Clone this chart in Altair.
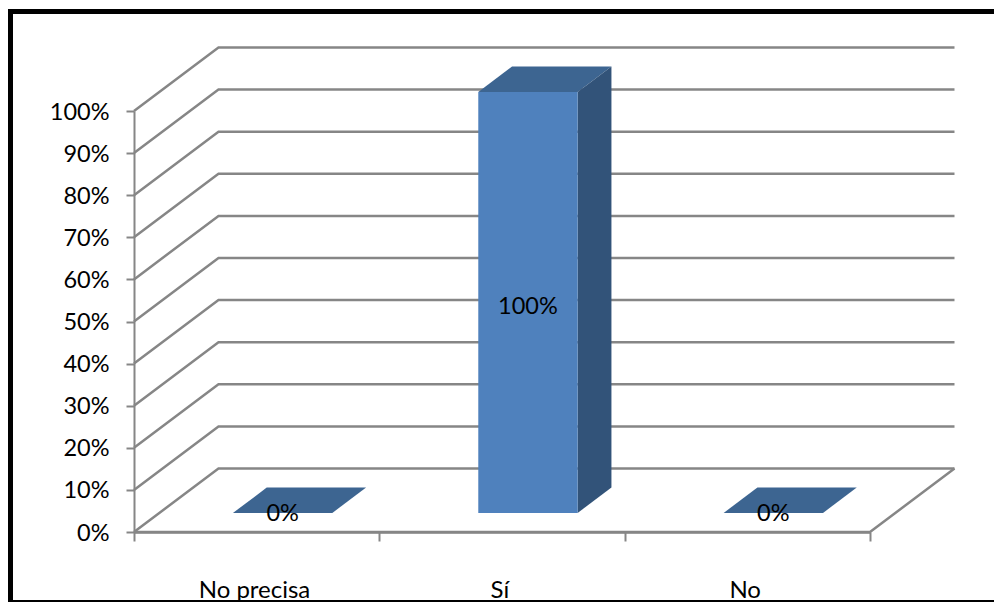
import altair as alt
import pandas as pd

categories = ["No precisa", "Sí", "No"]
values = [0.0, 1.0, 0.0]
labels = ["0%", "100%", "0%"]
label_at = [0.0, 0.493, 0.0]
grid_values = [0.0, 0.1, 0.2, 0.3, 0.4, 0.5, 0.6, 0.7, 0.8, 0.9, 1.0]

GRID = "#868686"
FRONT = "#4F81BD"
TOP = "#3D6591"
SIDE = "#325379"
FONT = "Lato"
FS = 23.5
LINE = 2.5

# oblique projection: full depth moves a point this far in data units
DX = 0.3444
DY = 0.1508
D0, D1 = 0.3, 0.7
B0, B1 = 0.3, 0.705

XS = alt.Scale(domain=[0, 3], nice=False, zero=False)
YS = alt.Scale(domain=[0, 1], nice=False, zero=False)


def px(x, d):
    return x + d * DX


def py(y, d):
    return y + d * DY


grid_rows = []
for v in grid_values:
    for x, d in [(0, 0), (0, 1), (3, 1)]:
        grid_rows.append({"g": v, "x": px(x, d), "y": py(v, d)})
grid_rows += [
    {"g": -1, "x": px(0, 0), "y": py(0, 0)},
    {"g": -1, "x": px(3, 0), "y": py(0, 0)},
    {"g": -1, "x": px(3, 1), "y": py(0, 1)},
]

top_rows, side_rows, front_rows, text_rows = [], [], [], []
for i, (c, v, t, at) in enumerate(zip(categories, values, labels, label_at)):
    for d in (D0, D1):
        top_rows.append({"c": c, "y": py(v, d), "x": px(i + B0, d), "x2": px(i + B1, d)})
        side_rows.append({"c": c, "x": px(i + B1, d), "y": py(v, d), "y2": py(0, d)})
    front_rows.append({"c": c, "x": px(i + B0, D0), "x2": px(i + B1, D0), "y": py(v, D0), "y2": py(0, D0)})
    text_rows.append({"t": t, "x": px(i + (B0 + B1) / 2, D0), "y": py(at, D0) - 0.003})

x_enc = alt.X(
    "x:Q",
    scale=XS,
    title=None,
    axis=alt.Axis(
        values=[0, 1, 2, 3],
        grid=False,
        labelExpr="['No precisa','Sí','No',''][datum.value]",
        labelOffset=120,
        labelPadding=37,
        labelFont=FONT,
        labelFontSize=24,
        labelColor="#000000",
        labelFlush=False,
        labelOverlap=False,
        labelBound=False,
        tickSize=9,
        tickWidth=2,
        tickColor=GRID,
        domainWidth=LINE,
        domainColor=GRID,
    ),
)
y_enc = alt.Y(
    "y:Q",
    scale=YS,
    title=None,
    axis=alt.Axis(
        values=grid_values,
        format=".0%",
        grid=False,
        labelPadding=17,
        labelOffset=1,
        labelFont=FONT,
        labelFontSize=FS,
        labelColor="#000000",
        labelOverlap=False,
        labelBound=False,
        labelFlush=False,
        tickSize=8,
        tickWidth=2,
        tickColor=GRID,
        domainWidth=2,
        domainColor=GRID,
    ),
)

grid = alt.Chart(pd.DataFrame(grid_rows)).mark_line(color=GRID, strokeWidth=LINE, clip=False).encode(
    x=x_enc, y=y_enc, detail="g:N", order=alt.Order("x:Q")
)

top = alt.Chart(pd.DataFrame(top_rows)).mark_area(orient="horizontal", color=TOP, clip=False).encode(
    y=y_enc, x=x_enc, x2="x2:Q", detail="c:N"
)

side = alt.Chart(pd.DataFrame(side_rows)).mark_area(orient="vertical", color=SIDE, clip=False).encode(
    x=x_enc, y=y_enc, y2="y2:Q", detail="c:N"
)

front = alt.Chart(pd.DataFrame(front_rows)).mark_rect(color=FRONT, clip=False).encode(
    x=x_enc, x2="x2:Q", y=y_enc, y2="y2:Q"
)

text = alt.Chart(pd.DataFrame(text_rows)).mark_text(
    font=FONT, fontSize=FS, color="#000000", align="center", baseline="middle", clip=False
).encode(x=x_enc, y=y_enc, text="t:N")

# picture frame: decoration around the chart, placed in pixels from the plot origin
frame_data = pd.DataFrame({"k": [1]})
frame_left = alt.Chart(frame_data).mark_rule(color="#000000", strokeWidth=5).encode(
    x=alt.value(-123.5), y=alt.value(-102), y2=alt.value(491)
)
frame_top = alt.Chart(frame_data).mark_rule(color="#000000", strokeWidth=5).encode(
    x=alt.value(-126), x2=alt.value(860), y=alt.value(-99.5)
)
frame_bottom = alt.Chart(frame_data).mark_rule(color="#000000", strokeWidth=2).encode(
    x=alt.value(-126), x2=alt.value(860), y=alt.value(490)
)

chart = (
    alt.layer(grid, top, side, front, text, frame_left, frame_top, frame_bottom)
    .properties(
        width=736,
        height=421,
        padding={"left": 126, "top": 103, "right": 124, "bottom": 70},
        autosize=alt.AutoSizeParams(type="none"),
        background="#FFFFFF",
    )
    .configure_view(stroke=None)
)

chart.save("out.html", embed_options={"renderer": "svg", "actions": False})
